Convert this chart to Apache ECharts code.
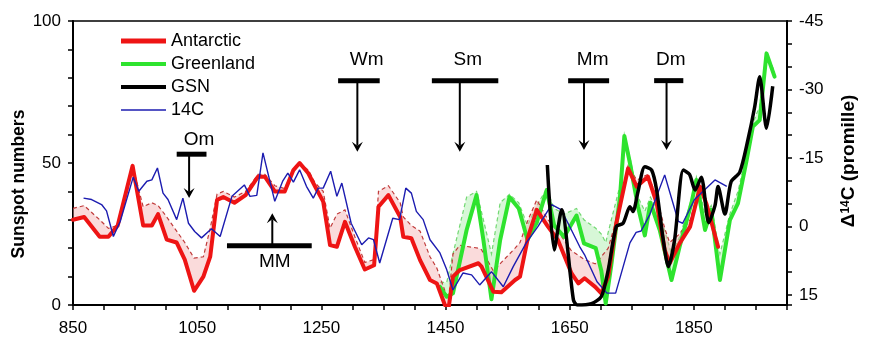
<!DOCTYPE html>
<html><head><meta charset="utf-8">
<script src="https://cdn.jsdelivr.net/npm/echarts@6/dist/echarts.min.js"></script>
<style>html,body{margin:0;padding:0;background:#fff}#c{width:872px;height:345px}</style>
</head><body><div id="c"></div>
<script>
// ---- Data ----
const antYears  = [850,868,893,907,922,946,963,977,987,1001,1017,1030,1045,1060,1071,1082,1092,1110,1128,1148,1159,1175,1191,1205,1215,1229,1240,1253,1264,1275,1288,1304,1320,1335,1342,1358,1377,1382,1395,1409,1425,1436,1449,1455,1462,1473,1503,1508,1527,1540,1562,1570,1583,1597,1615,1631,1653,1664,1674,1691,1701,1712,1725,1744,1758,1776,1790,1803,1811,1827,1844,1860,1870,1889];
const antValues = [30,31,24,24,28,49,28,28,32,23,22,16,5,10,17,37,38,36,38.7,45.2,45.2,40,40,47.5,50,46.4,41.7,36.4,21.1,20.5,29.3,20.5,12.5,14,34.6,38.7,31,24,23.5,15.8,8.8,7.6,0,-1,10,12.3,14.7,13.5,4.7,4.5,8.8,10,24,33.5,27.6,22.9,11.1,7.6,9.4,6.4,4.1,10,28.8,48.1,41.7,45.2,36,19.4,14.7,21.7,27.6,41.7,35.8,20.5];
const antUpper  = [34,35,30,27,28,49,34.6,36,35,31,26,22,16.5,17,27,39,40,38,40,46,46,42,41,48,50,47.5,43,40,27,32,33.5,24,15,16,40,42,36,31,28,26,17,13,5,2,18,21,20,19.5,12,15,20,22,30,37,30,26,19,17.5,16,14.5,17,20,30,49,44,46,38,27,22,25,30,42,37,21];

const grYears  = [1441,1452,1462,1484,1500,1511,1524,1538,1553,1568,1582,1597,1613,1625,1641,1661,1673,1692,1701,1708,1717,1731,1738,1747,1760,1771,1780,1795,1814,1827,1846,1854,1868,1878,1892,1908,1921,1935,1945,1956,1967,1980];
const grValues = [6.4,2.9,4.1,26.4,38.7,22.9,2,22.9,38,34,23,29,40.5,28,24,31.5,21.7,20,12,0.5,14,38,59.5,50,34.6,24.5,36,26.4,8.8,20.5,35.8,44,26.4,33.5,8.8,29.9,35.8,51,62.8,65.1,88.6,80.4];
const grUpper  = [8,8,18,38,40,30,18,36,39,36,28,35,41,34,32,34,30,27,25,22,30,42,60,52,38,33,38,32,18,24,37,45,32,35,18,32,40,53,64,70,89,82];

const gsnYears  = [1614,1625,1637,1656,1662,1685,1701,1712,1725,1736,1747,1752,1760,1771,1782,1790,1800,1809,1819,1833,1843,1852,1862,1874,1884,1889,1900,1910,1924,1937,1948,1956,1967,1977];
const gsnValues = [49.3,19.4,33.5,1.8,0,0.5,3,12.3,27.6,28.8,34.6,32.9,39.9,48.7,47.5,40.5,24,13.5,23,47.5,46,40.5,45,29,35,41.7,32,43.4,46.8,58.1,69.8,80.4,62.2,77];

// 14C in per mille (right axis, inverted)
const c14Years  = [867,880,896,904,915,926,947,956,969,977,986,995,1003,1017,1027,1036,1046,1057,1073,1087,1106,1126,1135,1146,1156,1175,1188,1196,1205,1215,1226,1237,1245,1253,1265,1275,1283,1298,1315,1326,1334,1344,1365,1376,1386,1395,1403,1414,1425,1441,1452,1462,1478,1492,1505,1524,1543,1559,1580,1599,1621,1636,1650,1666,1674,1694,1710,1724,1747,1757,1765,1779,1787,1803,1825,1832,1851,1884,1903];
const c14Values = [-6.2,-5.9,-4.8,-3.4,2.2,-1.1,-10.8,-7.7,-9.9,-10.2,-12.8,-7.3,-5.9,-1.5,-6.2,-0.7,1.1,2.5,0.5,2.2,-6.6,-9.1,-6.6,-6.8,-16.1,-5.5,-10.0,-11.7,-9.7,-12.4,-8.8,-6.2,-8.4,-8.4,-12.1,-6.6,-9.5,-0.7,4.0,2.5,2.9,8.0,-1.8,-1.5,-8.4,-7.3,-3.3,-1.5,2.9,5.8,9.5,13.9,10.2,10.6,12.8,9.9,13.2,8.8,3.6,0.0,-4.8,-3.7,0.0,4.4,6.2,12.1,14.6,14.6,3.6,1.3,1.0,-2.6,-5.5,-11.3,-1.1,-0.7,-5.9,-10.2,-8.8];

const seriesNames = ['Antarctic','Greenland','GSN','14C'];
const xTickLabels = [850,1050,1250,1450,1650,1850];
const leftTickLabels = [0,50,100];
const rightTickLabels = [-45,-30,-15,0,15];

// Minima annotations (years / sunspot units)
const minimaLabels = ['Om','MM','Wm','Sm','Mm','Dm'];
const minimaBarFrom = [1017,1098,1277,1428,1647.5,1786];
const minimaBarTo   = [1065,1234.5,1344,1535,1713.5,1833];
const minimaBarY    = [53.1,20.9,79,79,79,79];
const minimaArrowX  = [1037,1171,1308,1473,1673,1806];
const minimaTipY    = [37.7,32.3,54,54,54.6,54.6];
const minimaLabelX  = [1053,1175,1323,1486,1687,1813];
const minimaLabelY  = [58.1,15.2,86.3,86.3,86.3,86.3];

// ---- Chart ----
const FONT = '"Liberation Sans", Arial, Helvetica, sans-serif';
const pairs = (xs, ys) => xs.map((x, i) => [x, ys[i]]);

const RED = '#ee1414', GREEN = '#2ee32e', BLUE = '#1c1cb0', BLACK = '#000000';

function bandSeries(name, xs, lo, hi, fill, stroke, z) {
  return {
    name: name, type: 'custom', z: z, silent: true, clip: true,
    data: [[xs[0], lo[0]]], encode: {x: 0, y: 1},
    renderItem: function (params, api) {
      const top = xs.map((x, i) => api.coord([x, hi[i]]));
      const bot = xs.map((x, i) => api.coord([x, lo[i]])).reverse();
      return {type: 'group', children: [
        {type: 'polygon', shape: {points: top.concat(bot)}, style: {fill: fill}},
        {type: 'polyline', shape: {points: top}, style: {stroke: stroke, lineWidth: 1.2, lineDash: [4, 3], fill: null}}
      ]};
    }
  };
}

// legend icons: line of given thickness centred in a 45x14 box
const lineIcon = t => 'path://M0,0M45,14M0,' + (7 - t / 2) + 'h45v' + t + 'h-45z';

const chart = echarts.init(document.getElementById('c'), null, {renderer: 'canvas'});

const axisLineStyle = {color: '#000', width: 2};
const tickStyle = {color: '#000', width: 1.5};

const option = {
  animation: false,
  backgroundColor: '#fff',
  grid: {left: 73, right: 85, top: 21, bottom: 40, show: true, borderColor: '#000', borderWidth: 1.5, backgroundColor: 'transparent'},
  xAxis: {
    type: 'value', min: 850, max: 2000, interval: 50,
    axisLine: {lineStyle: axisLineStyle},
    axisTick: {show: true, length: 5, lineStyle: tickStyle},
    axisLabel: {formatter: v => (xTickLabels.indexOf(v) >= 0 ? String(v) : ''), fontSize: 17, color: '#000', margin: 15, fontFamily: FONT},
    splitLine: {show: false}
  },
  yAxis: [
    {
      type: 'value', min: 0, max: 100, interval: 10,
      axisLine: {show: true, lineStyle: axisLineStyle},
      axisTick: {show: true, length: 5, lineStyle: tickStyle},
      axisLabel: {formatter: v => (leftTickLabels.indexOf(v) >= 0 ? String(v) : ''), fontSize: 17, color: '#000', margin: 12, fontFamily: FONT},
      splitLine: {show: false}
    },
    {
      type: 'value', position: 'right', inverse: true, min: -45, max: 17.2, interval: 5,
      axisLine: {show: true, lineStyle: axisLineStyle},
      axisTick: {show: true, length: 5, lineStyle: tickStyle},
      axisLabel: {formatter: v => (rightTickLabels.indexOf(v) >= 0 ? String(v) : ''), fontSize: 17, color: '#000', margin: 12, fontFamily: FONT},
      splitLine: {show: false}
    }
  ],
  legend: {
    data: [
      {name: 'Antarctic', icon: lineIcon(5)},
      {name: 'Greenland', icon: lineIcon(4)},
      {name: 'GSN', icon: lineIcon(4)},
      {name: '14C', icon: lineIcon(1.4)}
    ],
    orient: 'vertical', left: 116, top: 27,
    itemWidth: 45, itemHeight: 14, itemGap: 5,
    textStyle: {fontSize: 18, fontFamily: FONT, color: '#000', lineHeight: 18},
    selectedMode: false
  },
  graphic: [
    {type: 'text', x: 19, y: 184, rotation: Math.PI / 2,
     style: {text: 'Sunspot numbers', font: 'bold 17.5px ' + FONT, fill: '#000', align: 'center', verticalAlign: 'middle'}},
    {type: 'text', x: 849, y: 161, rotation: Math.PI / 2,
     style: {text: '{d|Δ}{s|14}{d|C (promille)}', align: 'center', verticalAlign: 'middle',
       rich: {d: {fontSize: 19, fontWeight: 'bold', fontFamily: FONT, fill: '#000', color: '#000'},
              s: {fontSize: 12, fontWeight: 'bold', fontFamily: FONT, fill: '#000', color: '#000', verticalAlign: 'top'}}}}
  ],
  series: [
    bandSeries('GreenlandBand', grYears, grValues, grUpper, 'rgba(175,240,175,0.5)', '#72d872', 1),
    bandSeries('AntarcticBand', antYears, antValues, antUpper, 'rgba(245,175,175,0.45)', '#c03a3a', 2),
    {name: 'Greenland', type: 'line', data: pairs(grYears, grValues), symbol: 'none', z: 3,
     color: GREEN, lineStyle: {color: GREEN, width: 4, join: 'round', cap: 'round'}},
    {name: 'Antarctic', type: 'line', data: pairs(antYears, antValues), symbol: 'none', z: 4,
     color: RED, lineStyle: {color: RED, width: 4, join: 'round', cap: 'round'}},
    {name: '14C', type: 'line', yAxisIndex: 1, data: pairs(c14Years, c14Values), symbol: 'none', z: 5,
     color: BLUE, lineStyle: {color: BLUE, width: 1.4}},
    {name: 'GSN', type: 'line', data: pairs(gsnYears, gsnValues), symbol: 'none', z: 6, smooth: 0.25,
     color: BLACK, lineStyle: {color: BLACK, width: 3.5}},
    {name: 'minima', type: 'custom', z: 7, silent: true,
     data: minimaArrowX.map((x, i) => [x, minimaBarY[i]]),
     encode: {x: 0, y: 1},
     renderItem: function (params, api) {
       const i = params.dataIndex;
       const p1 = api.coord([minimaBarFrom[i], minimaBarY[i]]);
       const p2 = api.coord([minimaBarTo[i], minimaBarY[i]]);
       const a0 = api.coord([minimaArrowX[i], minimaBarY[i]]);
       const tip = api.coord([minimaArrowX[i], minimaTipY[i]]);
       const lab = api.coord([minimaLabelX[i], minimaLabelY[i]]);
       const dir = tip[1] > a0[1] ? 1 : -1;
       const hl = 10, hh = 5.5;
       return {type: 'group', children: [
         {type: 'line', shape: {x1: p1[0], y1: p1[1], x2: p2[0], y2: p2[1]}, style: {stroke: '#000', lineWidth: 5}},
         {type: 'line', shape: {x1: a0[0], y1: a0[1], x2: tip[0], y2: tip[1] - dir * hl * 0.6}, style: {stroke: '#000', lineWidth: 2}},
         {type: 'polygon', shape: {points: [[tip[0], tip[1]], [tip[0] - hh, tip[1] - dir * hl], [tip[0], tip[1] - dir * hl * 0.6], [tip[0] + hh, tip[1] - dir * hl]]}, style: {fill: '#000'}},
         {type: 'text', x: lab[0], y: lab[1], style: {text: minimaLabels[i], fill: '#000', font: '19px ' + FONT, align: 'center', verticalAlign: 'middle', textAlign: 'center', textVerticalAlign: 'middle'}}
       ]};
     }}
  ]
};
chart.setOption(option);
</script>
</body></html>
